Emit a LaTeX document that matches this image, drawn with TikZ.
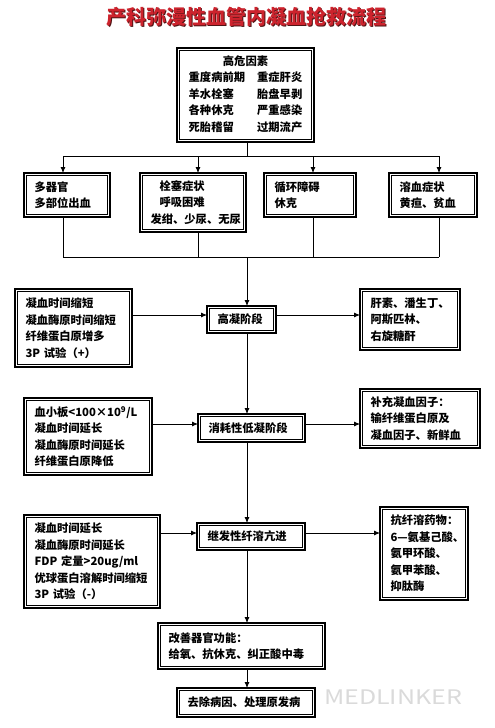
\documentclass[tikz,border=0pt]{standalone}
\usepackage{fontspec}
\setmainfont{Noto Sans CJK SC}
\usetikzlibrary{arrows.meta}
\definecolor{titlered}{RGB}{205,35,45}
\definecolor{titleshade}{RGB}{80,20,20}
\definecolor{wmgray}{RGB}{218,218,218}
\newcommand\bxfont{\fontsize{11.3pt}{16.5pt}\selectfont\bfseries}
\tikzset{
  box/.style={draw, line width=0.6pt, outer sep=2.5pt, inner xsep=8pt, inner ysep=0pt, align=left, font=\bxfont},
  frame/.style={line width=1.5pt},
  ln/.style={line width=0.8pt},
  arr/.style={ln, -{Latex[length=6pt,width=5pt]}}
}
\begin{document}
\begin{tikzpicture}[x=1pt,y=-1pt]
\useasboundingbox (0,0) rectangle (495,728);
\fill[white] (0,0) rectangle (495,728);

% title
\node[font=\fontsize{20pt}{24pt}\selectfont\bfseries, text=titleshade] (titleshadow) at (247.3,17.8) {产科弥漫性血管内凝血抢救流程};
\node[font=\fontsize{20pt}{24pt}\selectfont\bfseries, text=titlered] (title) at (246.5,17) {产科弥漫性血管内凝血抢救流程};

% risk factors
\node[box, minimum width=132, minimum height=89, align=center] (risk) at (245.5,95) {%
\begin{tabular}{@{}l@{\hspace{12pt}}l@{}}
\multicolumn{2}{c}{高危因素}\\
重度病前期 & 重症肝炎\\
羊水栓塞 & 胎盘早剥\\
各种休克 & 严重感染\\
死胎稽留 & 过期流产
\end{tabular}};

% symptom boxes
\node[box, minimum width=81, minimum height=39, text width=65] (a) at (67,195) {多器官\\多部位出血};
\node[box, minimum width=101, minimum height=54, text width=85] (b) at (193,202.5) {\hspace{9pt}栓塞症状\\\hspace{9pt}呼吸困难\\发绀、少尿、无尿};
\node[box, minimum width=87, minimum height=39, text width=71] (c) at (310,195) {循环障碍\\休克};
\node[box, minimum width=83, minimum height=39, text width=67] (d) at (433,195) {溶血症状\\黄疸、贫血};

% stage 1
\node[box, minimum width=64, minimum height=22, text width=48] (gn) at (241.5,319.5) {高凝阶段};
\node[box, minimum width=112, minimum height=73, text width=96] (L1) at (73.5,328) {凝血时间缩短\\凝血酶原时间缩短\\纤维蛋白原增多\\3P 试验（+）};
\node[box, minimum width=95, minimum height=56, text width=79] (R1) at (410,319.5) {肝素、潘生丁、\\阿斯匹林、\\右旋糖酐};

% stage 2
\node[box, minimum width=102, minimum height=23, text width=86] (xh) at (251.5,428) {消耗性低凝阶段};
\node[box, minimum width=123, minimum height=72, text width=107] (L2) at (88,436.5) {血小板<100×10\textsuperscript{9}/L\\凝血时间延长\\凝血酶原时间延长\\纤维蛋白原降低};
\node[box, minimum width=115, minimum height=54, text width=99] (R2) at (420,418.5) {补充凝血因子：\\输纤维蛋白原及\\凝血因子、新鲜血};

% stage 3
\node[box, minimum width=103, minimum height=22, text width=87] (jf) at (251,536.5) {继发性纤溶亢进};
\node[box, minimum width=131, minimum height=88, text width=115] (L3) at (92,561.5) {凝血时间延长\\凝血酶原时间延长\\FDP 定量>20ug/ml\\优球蛋白溶解时间缩短\\3P 试验（-）};
\node[box, minimum width=83, minimum height=88, text width=67] (R3) at (424,553.5) {抗纤溶药物：\\\mbox{6—氨基己酸、}\\氨甲环酸、\\氨甲苯酸、\\抑肽酶};

% final
\node[box, minimum width=162, minimum height=41, text width=146] (gs) at (241.5,646) {改善器官功能：\\给氧、抗休克、纠正酸中毒};
\node[box, minimum width=133, minimum height=24, text width=117] (qc) at (246,702.5) {去除病因、处理原发病};

% outer thick frames
\foreach \n in {risk,a,b,c,d,gn,L1,R1,xh,L2,R2,jf,L3,R3,gs,qc}
  \draw[frame] (\n.south west) rectangle (\n.north east);

% watermark
\node[text=wmgray, font=\fontsize{20pt}{20pt}\selectfont, xscale=1.25] (wm) at (393,697) {MEDLINKER};

% coordinates
\coordinate (cx) at (247,0);
\coordinate (xa) at (63,0);
\coordinate (xb) at (198,0);
\coordinate (xc) at (313,0);
\coordinate (xd) at (439,0);
\coordinate (bus1) at (247,156);
\coordinate (bus2) at (247,257);
\coordinate (r1) at (0,315);
\coordinate (r2) at (0,424);
\coordinate (r3) at (0,533);

% connectors
\draw[ln] (risk.south -| cx) -- (bus1);
\draw[ln] (bus1 -| xa) -- (bus1 -| xd);
\foreach \n/\x in {a/xa,b/xb,c/xc,d/xd}{
  \draw[arr] (bus1 -| \x) -- (\n.north -| \x);
  \draw[ln] (\n.south -| \x) -- (bus2 -| \x);
}
\draw[ln] (bus2 -| xa) -- (bus2 -| xd);
\draw[arr] (bus2) -- (gn.north -| cx);
\draw[arr] (gn.south -| cx) -- (xh.north -| cx);
\draw[arr] (xh.south -| cx) -- (jf.north -| cx);
\draw[arr] (jf.south -| cx) -- (gs.north -| cx);
\draw[arr] (gs.south -| cx) -- (qc.north -| cx);

\draw[arr] (L1.east |- r1) -- (gn.west |- r1);
\draw[arr] (gn.east |- r1) -- (R1.west |- r1);
\draw[arr] (L2.east |- r2) -- (xh.west |- r2);
\draw[arr] (xh.east |- r2) -- (R2.west |- r2);
\draw[arr] (L3.east |- r3) -- (jf.west |- r3);
\draw[arr] (jf.east |- r3) -- (R3.west |- r3);
\end{tikzpicture}
\end{document}
